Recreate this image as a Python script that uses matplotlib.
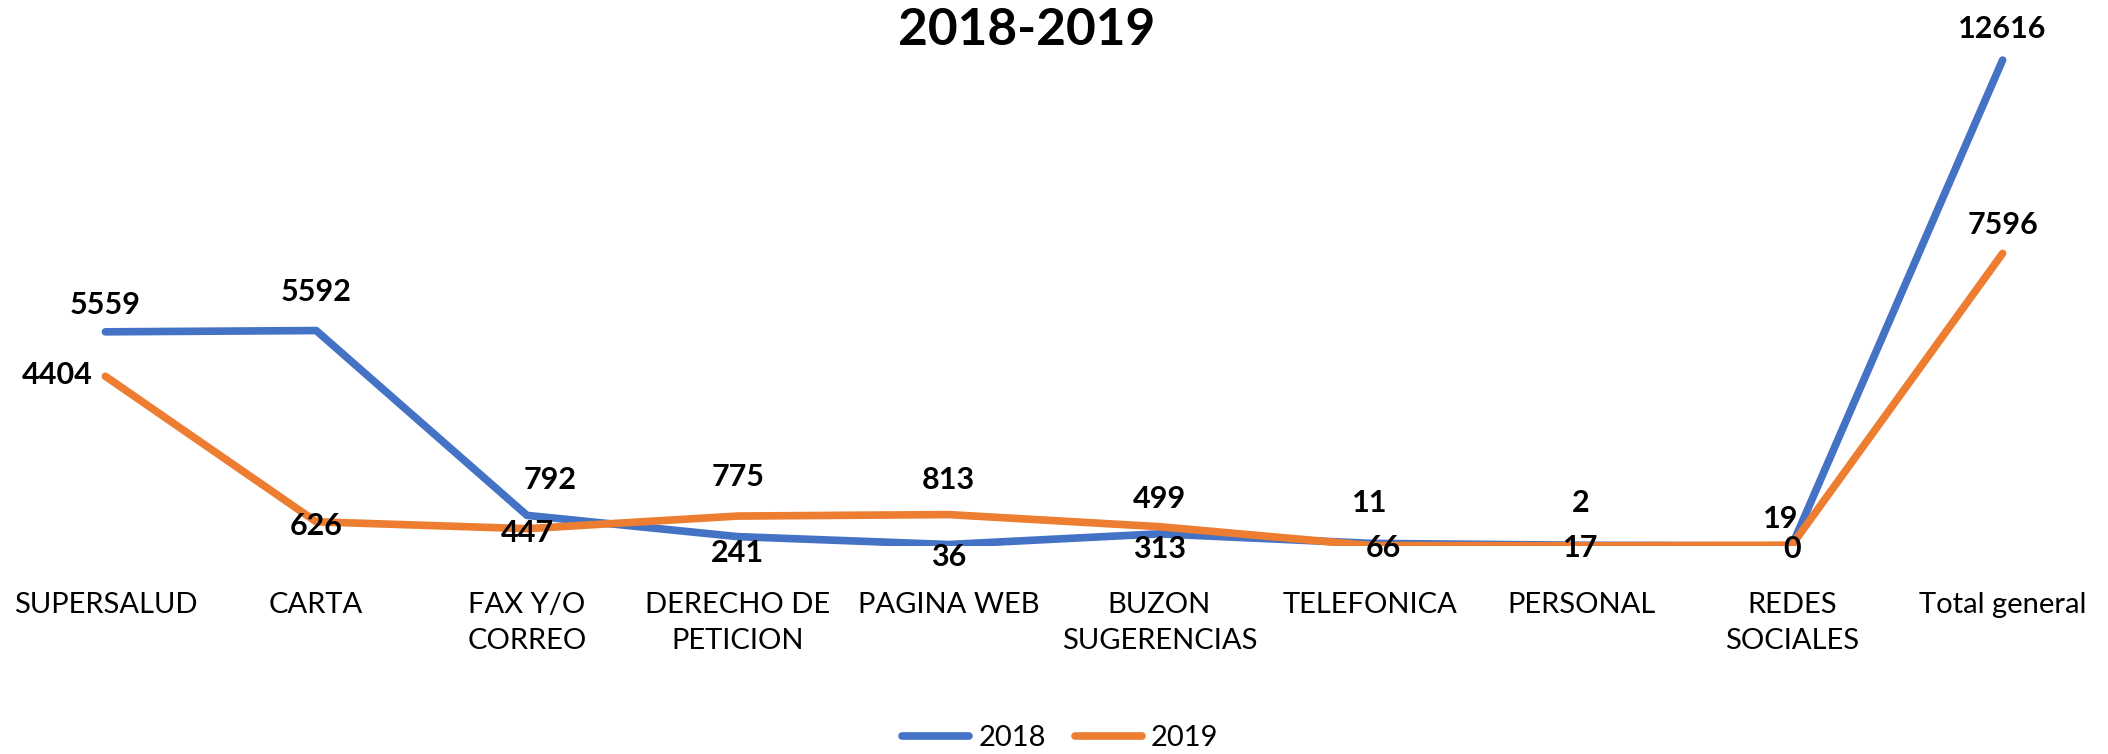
import matplotlib.pyplot as plt
import numpy as np

plt.rcParams['font.family'] = ['Lato', 'DejaVu Sans']

categorias = ['SUPERSALUD', 'CARTA', 'FAX Y/O\nCORREO', 'DERECHO DE\nPETICION',
              'PAGINA WEB', 'BUZON\nSUGERENCIAS', 'TELEFONICA', 'PERSONAL',
              'REDES\nSOCIALES', 'Total general']
v2018 = [5559, 5592, 792, 241, 36, 313, 66, 17, 0, 12616]
v2019 = [4404, 626, 447, 775, 813, 499, 11, 2, 19, 7596]

# label offsets in pixels (dx, dy) for each point
off2018 = [(0, 27), (0, 39), (23, 35), (0, -16), (0, -12), (0, -15),
           (13, -5), (0, -3), (0, -3), (0, 31)]
off2019 = [(-48, 1), (0, -4), (0, -4), (0, 39), (0, 35), (0, 28),
           (0, 42), (0, 43), (-11, 26), (0, 28)]

azul = '#4472C4'
naranja = '#ED7D31'

fig = plt.figure(figsize=(21.08, 7.54), dpi=100)
ax = fig.add_axes([0, 0.276, 1, 0.715])
x = np.arange(len(categorias))

ax.plot(x, v2018, color=azul, lw=5.5, solid_capstyle='round',
        solid_joinstyle='round', label='2018')
ax.plot(x, v2019, color=naranja, lw=5.5, solid_capstyle='round',
        solid_joinstyle='round', label='2019')

for i in range(len(x)):
    ax.annotate(str(v2018[i]), (x[i], v2018[i]), xytext=off2018[i],
                textcoords='offset pixels', ha='center', va='center',
                fontsize=22, fontweight='bold')
    ax.annotate(str(v2019[i]), (x[i], v2019[i]), xytext=off2019[i],
                textcoords='offset pixels', ha='center', va='center',
                fontsize=22, fontweight='bold')

ax.set_xlim(-0.5, len(x) - 0.5)
ax.set_ylim(0, 14000)
ax.set_xticks(x)
ax.set_xticklabels(categorias, fontsize=21, linespacing=1.5)
ax.tick_params(axis='x', length=0, pad=33)
ax.set_yticks([])
for s in ax.spines.values():
    s.set_visible(False)

fig.text(0.487, 0.96, '2018-2019', ha='center', va='center',
         fontsize=37, fontweight='bold')

fig.legend(loc='center', bbox_to_anchor=(0.503, 0.021), ncol=2, frameon=False,
           fontsize=21, handlelength=2.3, handletextpad=0.3, columnspacing=1.0)

fig.savefig('out.png', dpi=100)
